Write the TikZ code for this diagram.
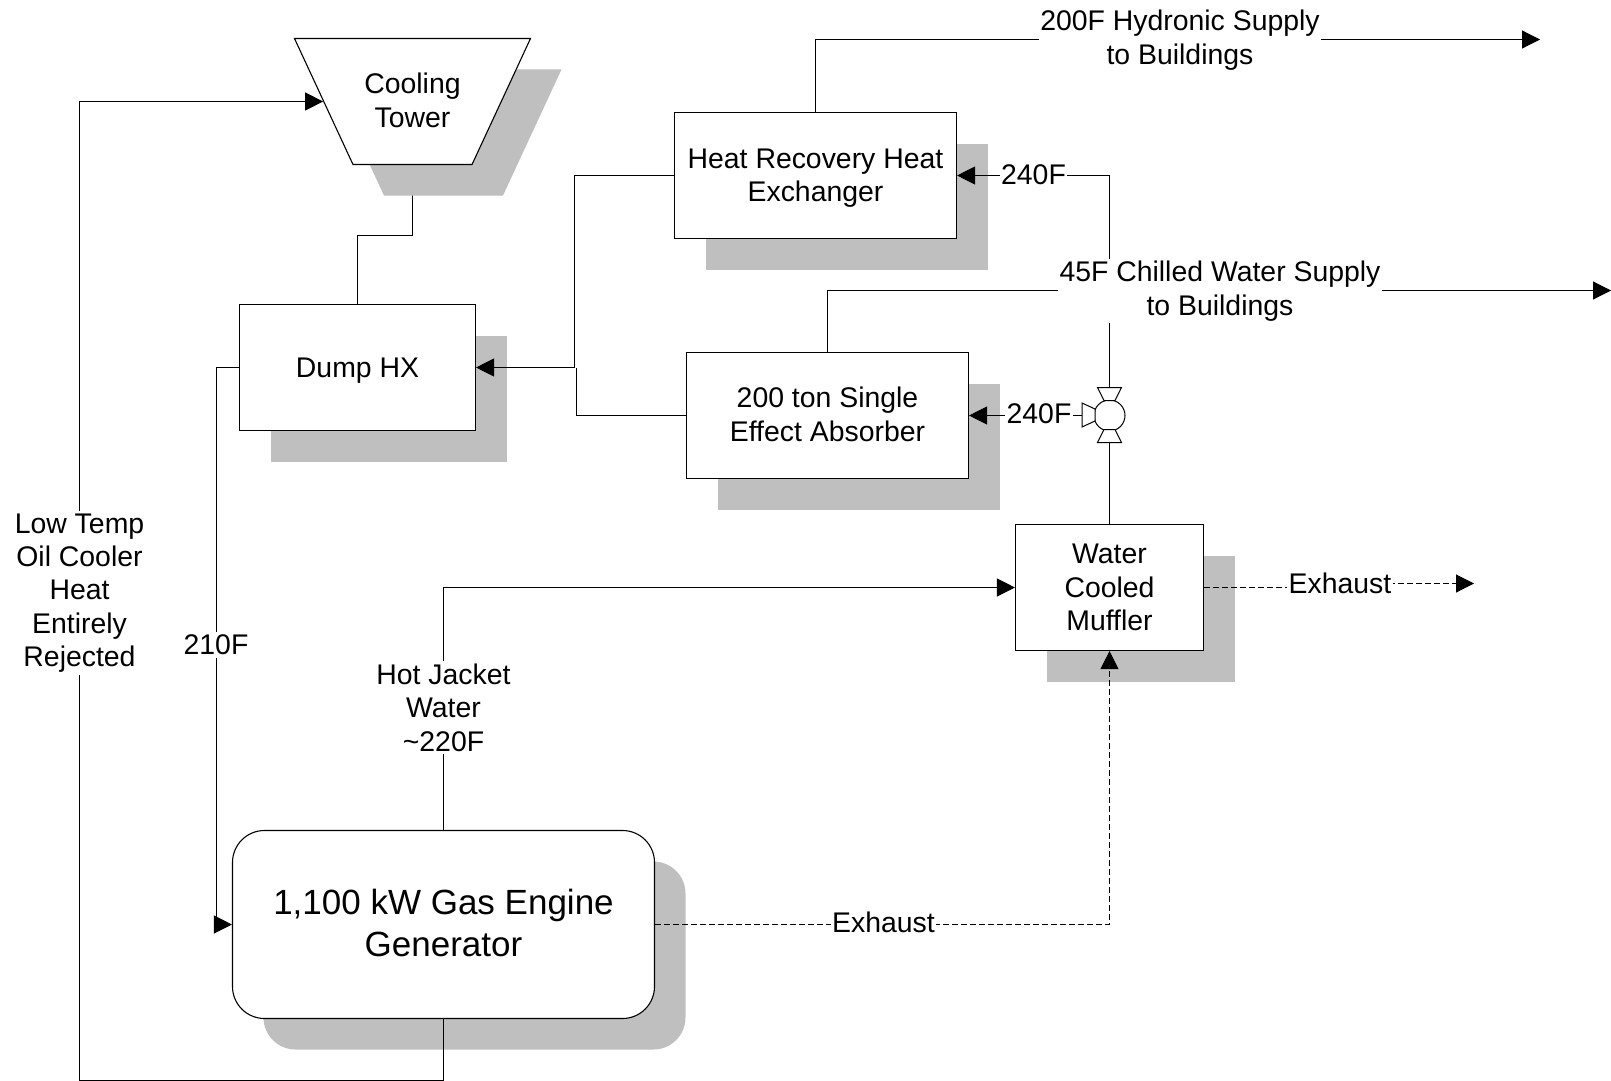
\documentclass[tikz,border=0pt]{standalone}
\usepackage{fontspec}
\setmainfont{Liberation Sans}
\usepackage{xcolor}
\usetikzlibrary{arrows.meta, shapes.geometric, shadows, backgrounds}
\definecolor{shadowgray}{HTML}{BFBFBF}
\begin{document}
\begin{tikzpicture}[
      x=1pt, y=-1pt, line width=1.1pt,
      every node/.style={align=center, font=\fontsize{28.4}{33.4}\selectfont},
      unit/.style={draw, fill=white, drop shadow={shadow xshift=31pt, shadow yshift=-31pt, fill=shadowgray, opacity=1}},
      flow/.style={-{Triangle[length=18pt, width=18pt]}},
      exhaust/.style={dash pattern=on 6pt off 3pt},
      tag/.style={fill=white, inner xsep=1.5pt, inner ysep=2.5pt},
      port/.style={draw, fill=white, line width=1pt}
    ]
      \useasboundingbox (0,0) rectangle (1611,1081);
      % equipment
      \node[unit, trapezium, trapezium left angle=136, trapezium right angle=136, trapezium stretches body=true, minimum width=236pt, minimum height=126pt, inner sep=0pt, text depth=2.5pt] (tower) at (412.5,101.5) {Cooling\\Tower};
      \node[unit, minimum width=282pt, minimum height=126pt, inner sep=0pt, text height=58.7pt] (hrhx) at (815.5,175.5) {Heat Recovery Heat\\Exchanger};
      \node[unit, minimum width=236pt, minimum height=126pt, text height=26.3pt] (dump) at (357.5,367.5) {Dump HX};
      \node[unit, minimum width=282pt, minimum height=126pt, inner sep=0pt, text depth=2.4pt] (absorber) at (827.5,415.5) {200 ton Single\\Effect Absorber};
      \node[unit, minimum width=188pt, minimum height=126pt, inner sep=0pt] (muffler) at (1109.5,587.5) {Water\\Cooled\\Muffler};
      \node[unit, rounded corners=32pt, minimum width=422pt, minimum height=188pt, font=\fontsize{35}{42}\selectfont, text depth=3.5pt] (engine) at (443.5,924.5) {1,100 kW Gas Engine\\Generator};
      \node[draw, circle, minimum size=31pt, inner sep=0pt, line width=1pt] (valve) at (1109.5,415.5) {};
      % valve ports
      \coordinate (valvetop) at (1109.5,387.5);
      \coordinate (valvebot) at (1109.5,442.5);
      \coordinate (valveleft) at (1082,415.5);
      \draw[port] (1097.5,387.5) -- (1121.5,387.5) -- (1115,400.5) -- (1104,400.5) -- cycle;
      \draw[port] (1097.5,442.5) -- (1121.5,442.5) -- (1115,429.5) -- (1104,429.5) -- cycle;
      \draw[port] (1082,403) -- (1082,427) -- (1095,421) -- (1095,409) -- cycle;
      % connectors
      \coordinate (oilcorner) at (79.5,1080.5);
      \coordinate (hydronicend) at (1540,39.5);
      \coordinate (chilledend) at (1611,290.5);
      \coordinate (hrhxbend) at (574.5,367.5);
      \coordinate (rejectjoin) at (576.5,367.5);
      \coordinate (dumpbend) at (216.5,924.5);
      \coordinate (stackend) at (1474,583.5);
      \begin{scope}[on background layer]
        \draw (tower.south) -- ++(0,70) -| (dump.north);
      \end{scope}
      \draw[flow] (engine.south) |- (oilcorner) |- (tower.west);
      \draw[flow] (hrhx.north) |- (hydronicend);
      \draw[flow] (hrhx.west) -| (hrhxbend) -- (dump.east);
      \draw (absorber.west) -| (rejectjoin);
      \draw[flow] (absorber.north) |- (chilledend);
      \draw[flow] (valvetop) |- (hrhx.east);
      \draw (muffler.north) -- (valvebot);
      \draw[flow] (valveleft) -- (absorber.east);
      \draw[flow] (dump.west) -| (dumpbend) -- (engine.west);
      \draw[flow] (engine.north) |- (muffler.west);
      \draw[flow, exhaust] (engine.east) -| (muffler.south);
      \draw[flow, exhaust] (muffler.east) -- ++(137,0) |- (stackend);
      % labels
      \node[tag] (hydroniclabel) at (1180,40) {200F Hydronic Supply\\to Buildings};
      \node[tag] (chilledlabel) at (1220,291) {45F Chilled Water Supply\\to Buildings};
      \node[tag] (hrhxtemp) at (1033.5,175) {240F};
      \node[tag] (absorbertemp) at (1039,414) {240F};
      \node[tag] (oillabel) at (79.5,593) {Low Temp\\Oil Cooler\\Heat\\Entirely\\Rejected};
      \node[tag] (dumptemp) at (216,645) {210F};
      \node[tag] (jacketlabel) at (443.5,707.5) {Hot Jacket\\Water\\\textasciitilde220F};
      \node[tag] (enginestack) at (883.5,922.5) {Exhaust};
      \node[tag] (mufflerstack) at (1340,583.5) {Exhaust};
    \end{tikzpicture}
\end{document}
